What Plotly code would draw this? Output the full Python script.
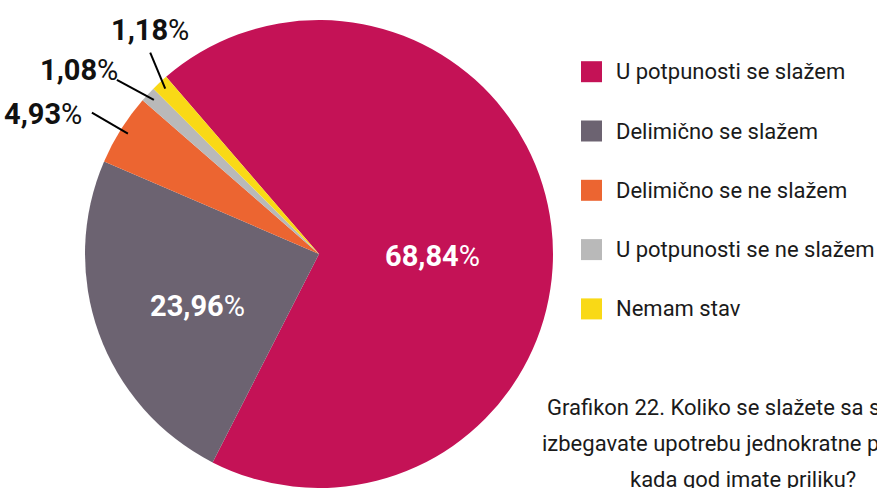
import math
import plotly.graph_objects as go

labels = ['U potpunosti se slažem', 'Delimično se slažem', 'Delimično se ne slažem',
          'U potpunosti se ne slažem', 'Nemam stav']
values = [68.84, 23.96, 4.93, 1.08, 1.18]
value_text = ['68,84', '23,96', '4,93', '1,08', '1,18']
colors = ['#C41256', '#6C6371', '#EC6531', '#B9B9B9', '#F9D916']
title_lines = ['Grafikon 22. Koliko se slažete sa stavom da',
               'izbegavate upotrebu jednokratne plastike',
               'kada god imate priliku?']

W, H = 877, 488
FONT = 'Roboto, sans-serif'
R = 234
CX, CY = 319, H - R
ROTATION = -40.8

def px(x, y):
    return x / W, 1 - y / H

fig = go.Figure()
fig.add_trace(go.Pie(
    labels=labels,
    values=values,
    sort=False,
    direction='clockwise',
    rotation=ROTATION,
    marker=dict(colors=colors, line=dict(width=0)),
    textinfo='none',
    hoverinfo='label+percent',
    showlegend=False,
    domain=dict(x=[(CX - R) / W, (CX + R) / W], y=[0, 2 * R / H]),
))

# slice mid angles (clockwise from 12 o'clock)
total = sum(values)
mids = []
a = ROTATION
for v in values:
    span = v / total * 360
    mids.append(a + span / 2)
    a += span

annotations = []
shapes = []

def label(i):
    return '<b>%s</b><span style="font-weight:normal">%%</span>' % value_text[i]

# inside labels (pixel positions of text centres)
inside_pos = {0: (432, 256), 1: (197, 306)}
for i, (x, y) in inside_pos.items():
    xp, yp = px(x, y)
    annotations.append(dict(x=xp, y=yp, xref='paper', yref='paper', showarrow=False,
                            xanchor='center', yanchor='middle', text=label(i),
                            font=dict(family=FONT, size=29, color='white')))

# outside labels with leader lines: line vector from slice, then text offset
outside = {4: ((-15, -36), (0, -23)), 3: ((-37, -20), (-38, -10)), 2: ((-36, -21), (-49, 1))}
for i, ((ldx, ldy), (tdx, tdy)) in outside.items():
    ang = math.radians(mids[i])
    x0 = CX + 0.965 * R * math.sin(ang)
    y0 = CY - 0.965 * R * math.cos(ang)
    x1, y1 = x0 + ldx, y0 + ldy
    a0, b0 = px(x0, y0)
    a1, b1 = px(x1, y1)
    shapes.append(dict(type='line', xref='paper', yref='paper', x0=a0, y0=b0, x1=a1, y1=b1,
                       line=dict(color='black', width=2)))
    tx, ty = px(x1 + tdx, y1 + tdy)
    annotations.append(dict(x=tx, y=ty, xref='paper', yref='paper', showarrow=False,
                            xanchor='center', yanchor='middle', text=label(i),
                            font=dict(family=FONT, size=29, color='#111111')))

# legend
for k, (lab, col) in enumerate(zip(labels, colors)):
    yc = 71.7 + k * 59.3
    x0, y0 = px(581, yc - 10.5)
    x1, y1 = px(602, yc + 10.5)
    shapes.append(dict(type='rect', xref='paper', yref='paper', x0=x0, y0=y0, x1=x1, y1=y1,
                       fillcolor=col, line=dict(width=0)))
    tx, ty = px(614, yc)
    annotations.append(dict(x=tx, y=ty, xref='paper', yref='paper', showarrow=False,
                            xanchor='left', yanchor='middle', text=lab,
                            font=dict(family=FONT, size=22, color='#1a1a1a')))

# caption (runs past the right edge, as in the source image)
for k, (line, x0) in enumerate(zip(title_lines, [545, 540, 628])):
    tx, ty = px(x0, 407 + k * 36)
    annotations.append(dict(x=tx, y=ty, xref='paper', yref='paper', showarrow=False,
                            xanchor='left', yanchor='middle', text=line,
                            font=dict(family=FONT, size=22, color='#1a1a1a')))

fig.update_layout(
    width=W, height=H,
    margin=dict(l=0, r=0, t=0, b=0),
    paper_bgcolor='white',
    plot_bgcolor='white',
    annotations=annotations,
    shapes=shapes,
)

fig.write_html("out.html", config={'displayModeBar': False},
               post_script="document.body.style.margin='0';")
